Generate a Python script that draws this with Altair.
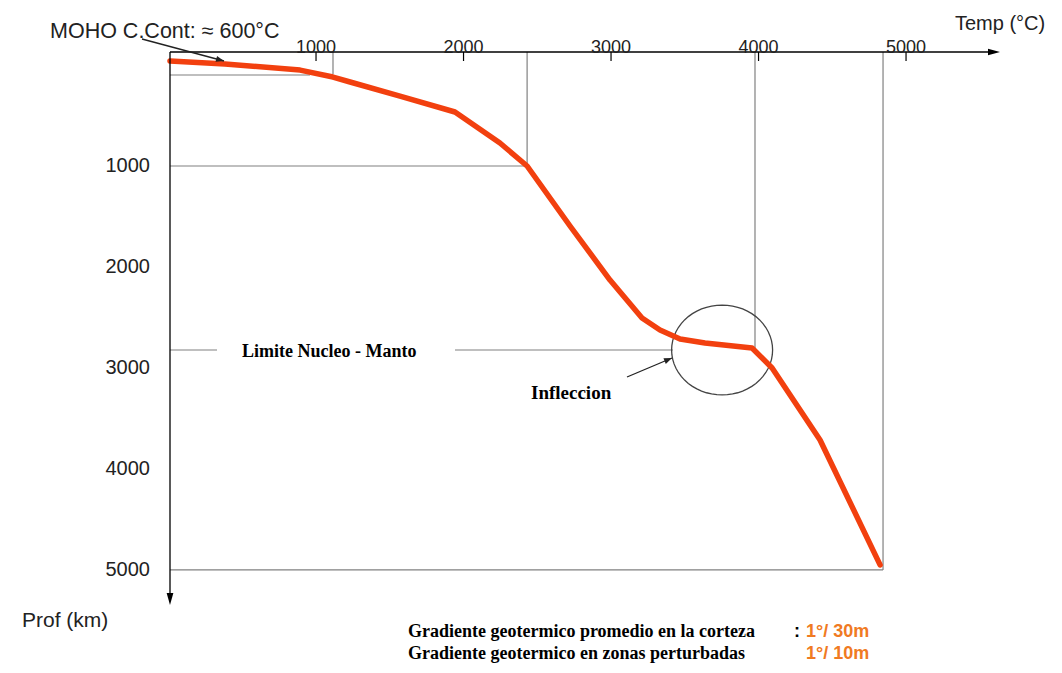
import math
import altair as alt
import pandas as pd

# ---- data ----
temp_c = [10, 383, 892, 1115, 1231, 1569, 1942, 2247, 2431, 2722, 2993, 3210, 3332, 3468, 3637, 3956, 4092, 4417, 4824]
depth_km = [-40, -10, 50, 119, 168, 307, 465, 772, 1000, 1594, 2129, 2505, 2624, 2713, 2752, 2802, 3000, 3713, 4950]

temp_ticks = [1000, 2000, 3000, 4000, 5000]
depth_ticks = [1000, 2000, 3000, 4000, 5000]

guide_t1 = [10, 1115, 2431, 10, 3976, 10, 1942, 4844, 10]
guide_d1 = [99, -129, -129, 1000, -129, 2822, 2822, -129, 5000]
guide_t2 = [959, 1115, 2431, 2431, 3976, 329, 3420, 4844, 4844]
guide_d2 = [99, 89, 1000, 1000, 2802, 2822, 2822, 5000, 5000]

inflection_temp = [3753]
inflection_depth = [2822]

# ---- styling ----
RED = "#f2400f"
ORANGE = "#f07a22"
GUIDE = "#808080"
SANS = "Liberation Sans"
SERIF = "Liberation Serif"

xs = alt.Scale(domain=[10, 5637], nice=False, zero=False)
ys = alt.Scale(domain=[-129, 5347], reverse=True, nice=False, zero=False)

one = pd.DataFrame({"k": [0]})

curve_df = pd.DataFrame({"temp": temp_c, "depth": depth_km, "i": list(range(len(temp_c)))})
guide_df = pd.DataFrame({"t1": guide_t1, "d1": guide_d1, "t2": guide_t2, "d2": guide_d2})
xt_df = pd.DataFrame({"t": temp_ticks})
yt_df = pd.DataFrame({"d": depth_ticks})
inf_df = pd.DataFrame({"t": inflection_temp, "d": inflection_depth})

guides = alt.Chart(guide_df).mark_rule(color=GUIDE, strokeWidth=1.2).encode(
    x=alt.X("t1:Q", scale=xs, axis=None),
    y=alt.Y("d1:Q", scale=ys, axis=None),
    x2="t2:Q",
    y2="d2:Q",
)

curve = alt.Chart(curve_df).mark_line(
    color=RED, strokeWidth=5.5, strokeCap="round", strokeJoin="round"
).encode(
    x=alt.X("temp:Q", scale=xs, axis=None),
    y=alt.Y("depth:Q", scale=ys, axis=None),
    order="i:Q",
)

n = 60
pts = [(math.cos(2 * math.pi * k / n), 0.89 * math.sin(2 * math.pi * k / n)) for k in range(n)]
ellipse_path = "M" + " L".join(f"{a:.4f},{b:.4f}" for a, b in pts) + " Z"
ellipse = alt.Chart(inf_df).mark_point(
    shape=ellipse_path, size=101 ** 2, filled=False, color="#444444", strokeWidth=1.3, opacity=1
).encode(x=alt.X("t:Q", scale=xs, axis=None), y=alt.Y("d:Q", scale=ys, axis=None))

# axes
x_line = alt.Chart(one).mark_rule(color="black", strokeWidth=1.3).encode(
    x=alt.value(0), x2=alt.value(822), y=alt.value(0))
y_line = alt.Chart(one).mark_rule(color="black", strokeWidth=1.3).encode(
    x=alt.value(0), y=alt.value(0), y2=alt.value(545))
big_head = "M-1,-0.28 L0,0 L-1,0.28 Z"
x_head = alt.Chart(one).mark_point(shape=big_head, size=576, filled=True, color="black", opacity=1).encode(
    x=alt.value(830), y=alt.value(0))
y_head = alt.Chart(one).mark_point(shape=big_head, size=576, filled=True, color="black", opacity=1, angle=90).encode(
    x=alt.value(0), y=alt.value(553))

x_ticks = alt.Chart(xt_df).mark_rule(color="black", strokeWidth=1.2).encode(
    x=alt.X("t:Q", scale=xs, axis=None), y=alt.value(0), y2=alt.value(9))
x_labels = alt.Chart(xt_df).mark_text(
    font=SANS, fontSize=18, baseline="alphabetic", align="center", color="#222222"
).encode(x=alt.X("t:Q", scale=xs, axis=None), y=alt.value(1), text=alt.Text("t:Q", format="d"))
y_labels = alt.Chart(yt_df).mark_text(
    font=SANS, fontSize=20, baseline="middle", align="right", color="#222222"
).encode(x=alt.value(-20), y=alt.Y("d:Q", scale=ys, axis=None), text=alt.Text("d:Q", format="d"))


def txt(s, x, y, **kw):
    return alt.Chart(one).mark_text(text=s, align="left", baseline="alphabetic", **kw).encode(
        x=alt.value(x), y=alt.value(y))


def arrow(x1, y1, x2, y2):
    ang = math.degrees(math.atan2(y2 - y1, x2 - x1)) % 360
    line = alt.Chart(one).mark_rule(color="#222222", strokeWidth=1.3).encode(
        x=alt.value(x1), y=alt.value(y1), x2=alt.value(x2), y2=alt.value(y2))
    head = alt.Chart(one).mark_point(
        shape="M-1,-0.38 L0,0 L-1,0.38 Z", size=256, filled=True, color="#222222", opacity=1, angle=ang
    ).encode(x=alt.value(x2), y=alt.value(y2))
    return line + head


texts = [
    txt("MOHO C.Cont: \u2248 600\u00b0C", -120, -14, font=SANS, fontSize=21.5, color="#222222"),
    txt("Temp (\u00b0C)", 785, -22, font=SANS, fontSize=20, color="#222222"),
    txt("Prof (km)", -148, 575, font=SANS, fontSize=21, color="#222222"),
    txt("Limite Nucleo - Manto", 72, 305, font=SERIF, fontSize=18, fontWeight="bold", color="black"),
    txt("Infleccion", 361, 347, font=SERIF, fontSize=19, fontWeight="bold", color="black"),
    txt("Gradiente geotermico promedio en la corteza", 238, 585, font=SERIF, fontSize=18, fontWeight="bold", color="black"),
    txt("Gradiente geotermico en zonas perturbadas", 238, 607, font=SERIF, fontSize=18, fontWeight="bold", color="black"),
    txt(":", 624, 585, font=SANS, fontSize=18, fontWeight="bold", color="black"),
    txt("1\u00b0/ 30m", 636, 585, font=SANS, fontSize=18, fontWeight="bold", color=ORANGE),
    txt("1\u00b0/ 10m", 636, 607, font=SANS, fontSize=18, fontWeight="bold", color=ORANGE),
]

layers = [guides, ellipse, curve, x_line, y_line, x_head, y_head, x_ticks, x_labels, y_labels,
          arrow(-28, -13, 54, 9), arrow(457, 325, 502, 306)] + texts

chart = alt.layer(*layers).properties(
    width=830,
    height=553,
    autosize=alt.AutoSizeParams(type="none"),
    padding={"left": 162, "top": 44, "right": 54, "bottom": 60},
).configure_view(stroke=None)

chart.save("out.html", embed_options={"renderer": "svg", "actions": False})
